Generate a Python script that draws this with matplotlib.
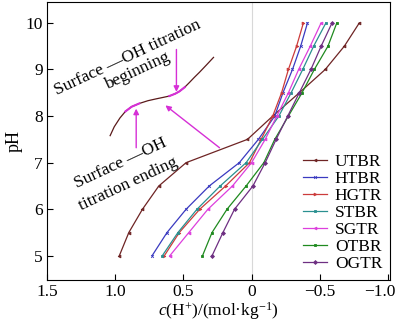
"""
pH titration curves of the soil samples, c(H+) versus pH
"""

import matplotlib

matplotlib.use("Agg")
import matplotlib.pyplot as plt
from matplotlib.transforms import ScaledTranslation

plt.rcParams["font.family"] = ["Liberation Serif", "DejaVu Serif"]
plt.rcParams["mathtext.fontset"] = "custom"
plt.rcParams["mathtext.rm"] = "Liberation Serif"
plt.rcParams["mathtext.it"] = "Liberation Serif:italic"

# pH at every titration point
PH: list[float] = [5.0, 5.5, 6.0, 6.5, 7.0, 7.5, 8.0, 8.5, 9.0, 9.5, 10.0]

# c(H+) in mol/kg for each sample
UTBR: list[float] = [0.97, 0.90, 0.80, 0.68, 0.48, 0.03, -0.155, -0.35, -0.54, -0.68, -0.79]
HTBR: list[float] = [0.73, 0.62, 0.48, 0.31, 0.09, -0.05, -0.17, -0.23, -0.30, -0.36, -0.41]
HGTR: list[float] = [0.64, 0.53, 0.38, 0.19, 0.015, -0.07, -0.155, -0.22, -0.27, -0.33, -0.38]
STBR: list[float] = [0.655, 0.54, 0.40, 0.23, 0.04, -0.08, -0.20, -0.29, -0.375, -0.455, -0.545]
SGTR: list[float] = [0.60, 0.46, 0.32, 0.14, 0.0, -0.10, -0.185, -0.27, -0.345, -0.43, -0.51]
OTBR: list[float] = [0.36, 0.29, 0.18, 0.04, -0.09, -0.17, -0.27, -0.37, -0.46, -0.56, -0.625]
OGTR: list[float] = [0.29, 0.21, 0.125, -0.01, -0.10, -0.18, -0.265, -0.35, -0.435, -0.51, -0.59]

SAMPLES: list[str] = ["UTBR", "HTBR", "HGTR", "STBR", "SGTR", "OTBR", "OGTR"]
SERIES: list[list[float]] = [UTBR, HTBR, HGTR, STBR, SGTR, OTBR, OGTR]

# schematic sketch of the surface -OH titration segment
SKETCH_X: list[float] = [1.037, 1.007, 0.965, 0.925, 0.88, 0.824, 0.76, 0.699, 0.65,
                         0.603, 0.56, 0.529, 0.49, 0.456, 0.42, 0.382, 0.33, 0.279]
SKETCH_Y: list[float] = [7.58, 7.77, 7.96, 8.10, 8.20, 8.27, 8.33, 8.37, 8.40,
                         8.43, 8.48, 8.53, 8.62, 8.72, 8.83, 8.94, 9.10, 9.26]

X_TICKS: list[float] = [1.5, 1.0, 0.5, 0.0, -0.5, -1.0]
X_TICK_LABELS: list[str] = ["1.5", "1.0", "0.5", "0", "\u22120.5", "\u22121.0"]
Y_TICKS: list[int] = [5, 6, 7, 8, 9, 10]

COLORS: list[str] = ["#6e2424", "#3a3ac0", "#cc3b3b", "#2a9090", "#dd3fdd", "#1f8a1f", "#6e2f82"]
MARKERS: list[str] = ["<", "x", ">", "s", "<", "s", "D"]
ARROW_COLOR: str = "#d62fd6"

fig = plt.figure(figsize=(4.0, 3.26), dpi=100)
ax = fig.add_axes([0.1175, 0.141, 0.8575, 0.853])

ax.axvline(0, color="#d8d8d8", lw=0.8, zorder=0)

for name, vals, col, mk in zip(SAMPLES, SERIES, COLORS, MARKERS):
    ax.plot(vals, PH, color=col, lw=0.9, marker=mk, ms=2.0, mew=0.6, label=name)

# sketch curve with highlighted tangents
ax.plot(SKETCH_X, SKETCH_Y, color="#5a1a1a", lw=0.9)
ax.plot(SKETCH_X[3:6], SKETCH_Y[3:6], color=ARROW_COLOR, lw=1.5)
ax.plot(SKETCH_X[9:13], SKETCH_Y[9:13], color=ARROW_COLOR, lw=1.5)

arrow = dict(arrowstyle="-|>", color=ARROW_COLOR, lw=1.0, mutation_scale=8, shrinkA=0, shrinkB=0)
ax.annotate("", xy=(0.551, 8.52), xytext=(0.551, 9.43), arrowprops=arrow)
ax.annotate("", xy=(0.846, 8.16), xytext=(0.846, 7.32), arrowprops=arrow)
ax.annotate("", xy=(0.632, 8.23), xytext=(0.235, 7.32), arrowprops=arrow)

txt = dict(rotation=25, rotation_mode="anchor", ha="center", va="center", fontsize=12.5)
ax.text(0.912, 9.26, "Surface \u2014OH titration", **txt)
ax.text(0.838, 8.96, "beginning", **txt)
ax.text(0.963, 6.98, "Surface \u2014OH", **txt)
ax.text(0.904, 6.53, "titration ending", **txt)

ax.set_xlim(1.5, -1.015)
ax.set_ylim(4.48, 10.45)
ax.set_xticks(X_TICKS)
ax.set_xticklabels(X_TICK_LABELS)
ax.set_yticks(Y_TICKS)
ax.tick_params(direction="in", length=4, labelsize=12.5, pad=3)
ax.set_xlabel("$c$(H$^{+}$)/(mol\u00b7kg$^{-1}$)", fontsize=12.5, labelpad=0)
ax.set_ylabel("pH", fontsize=13, labelpad=2)

# keep the last tick label inside the canvas
last = ax.get_xticklabels()[-1]
last.set_transform(last.get_transform() + ScaledTranslation(-8 / 100, 0, fig.dpi_scale_trans))

ax.legend(loc="lower right", bbox_to_anchor=(1.0, 0.0), frameon=False, fontsize=12.5,
          handlelength=1.4, handletextpad=0.45, labelspacing=0.05, borderaxespad=0.05)

fig.savefig("out.png", dpi=100)
